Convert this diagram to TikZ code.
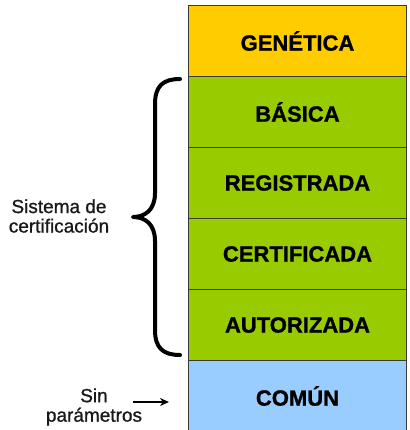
\documentclass[tikz,border=0pt]{standalone}
\usepackage{fontspec}
\usetikzlibrary{arrows.meta}
\setmainfont{Liberation Sans}
\newfontfamily\boxfont[FakeBold=1.2]{Liberation Sans Bold}
\newfontfamily\sidefont[FakeBold=1.0]{Liberation Sans}
\definecolor{cgen}{HTML}{FFCC00}
\definecolor{cgreen}{HTML}{99CC00}
\definecolor{cblue}{HTML}{99CCFF}
\definecolor{cedge}{HTML}{3A3A3A}
\begin{document}
\begin{tikzpicture}[x=1pt,y=-1pt,
  level/.style={draw=cedge,line width=1pt,minimum width=218pt,minimum height=71pt,inner sep=0pt,anchor=north west,font=\boxfont\fontsize{22}{24}\selectfont},
  side/.style={align=center,font=\sidefont\fontsize{19}{19.5}\selectfont,text=black!90}]
\useasboundingbox (0,0) rectangle (409,430);
\node[level,fill=cgen]   (gen) at (188,5)   {GENÉTICA};
\node[level,fill=cgreen] (bas) at (188,76)  {BÁSICA};
\node[level,fill=cgreen] (reg) at (188,147) {REGISTRADA};
\node[level,fill=cgreen] (cer) at (188,218) {CERTIFICADA};
\node[level,fill=cgreen] (aut) at (188,289) {AUTORIZADA};
\node[level,fill=cblue]  (com) at (188,360) {COMÚN};
\node[side] (sis) at (59,216) {Sistema de\\certificación};
\node[side] (sin) at (94,407) {Sin\\parámetros};
\coordinate (bt) at (180,79);
\coordinate (bb) at (180,355);
\coordinate (tip) at (133,217);
\draw[line width=4pt,line cap=round,line join=round]
  (bt) .. controls (163,79) and (155,86) .. (155,104)
  -- (155,193) .. controls (155,210) and (145,217) .. (tip)
  .. controls (145,217) and (155,224) .. (155,241)
  -- (155,330) .. controls (155,348) and (163,355) .. (bb);
\coordinate (ae) at (169,402);
\draw[line width=2pt,-{Stealth[length=9pt,width=8pt]}] (133,402) -- (ae);
\end{tikzpicture}
\end{document}
